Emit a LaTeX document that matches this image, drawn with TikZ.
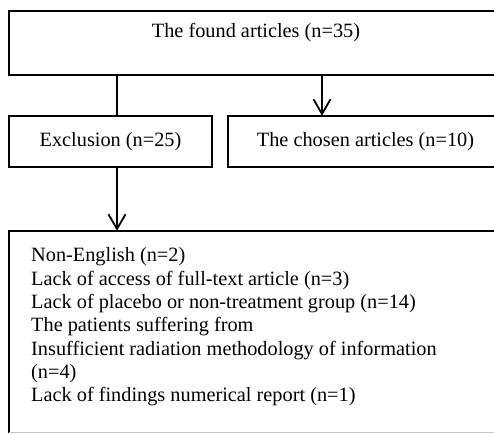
\documentclass[tikz,border=0pt]{standalone}
\usepackage{fontspec}
\setmainfont{Liberation Serif}
\usepackage{tikz}
\usetikzlibrary{positioning, arrows.meta}

\tikzset{
    box/.style={inner sep=0pt},
    rim/.style={line width=1.8pt},
    flow/.style={line width=1.8pt, -{Straight Barb[angle=60:17pt, line width=1.8pt]}},
}

\begin{document}
\begin{tikzpicture}[x=1pt, y=-1pt, font=\fontsize{20.3}{23.3}\selectfont]
    % Frame
    \useasboundingbox (0,0) rectangle (494,433);
    \clip (0,0) rectangle (494,433);
    \coordinate (edge) at (494,0);

    % Boxes
    \node[box, minimum width=494pt, minimum height=64pt] (found) at (256,43) {};
    \node (foundtxt) at (256,33) {The found articles (n=35)};
    \node[box, draw, rim, minimum width=203pt, minimum height=51pt] (excl) at (110.5,141.5) {Exclusion (n=25)};
    \node[box, minimum width=275pt, minimum height=51pt] (chosen) at (365.5,141.5) {The chosen articles (n=10)};
    \node[box, minimum width=494pt, minimum height=201.5pt] (reasons) at (256,331.75) {};

    % Open right sides
    \draw[rim] (found.north -| edge) -| (found.south west) -- (found.south -| edge);
    \draw[rim] (chosen.north -| edge) -| (chosen.south west) -- (chosen.south -| edge);
    \draw[rim] (reasons.north -| edge) -| (reasons.south west);
    \draw[gray!45, line width=0.8pt] (reasons.south west) -- (reasons.south -| edge);

    % Reasons list
    \node[anchor=base west, inner sep=0pt, align=left] (reasonstxt) at (31,401.7) {%
        Non-English (n=2)\\
        Lack of access of full-text article (n=3)\\
        Lack of placebo or non-treatment group (n=14)\\
        The patients suffering from\\
        Insufficient radiation methodology of information\\
        (n=4)\\
        Lack of findings numerical report (n=1)};

    % Connectors
    \draw[rim] (found.south -| 117,0) -- (excl.north -| 117,0);
    \draw[flow] (found.south -| 322,0) -- (chosen.north -| 322,0);
    \draw[flow] (excl.south -| 117,0) -- (reasons.north -| 117,0);

\end{tikzpicture}
\end{document}
